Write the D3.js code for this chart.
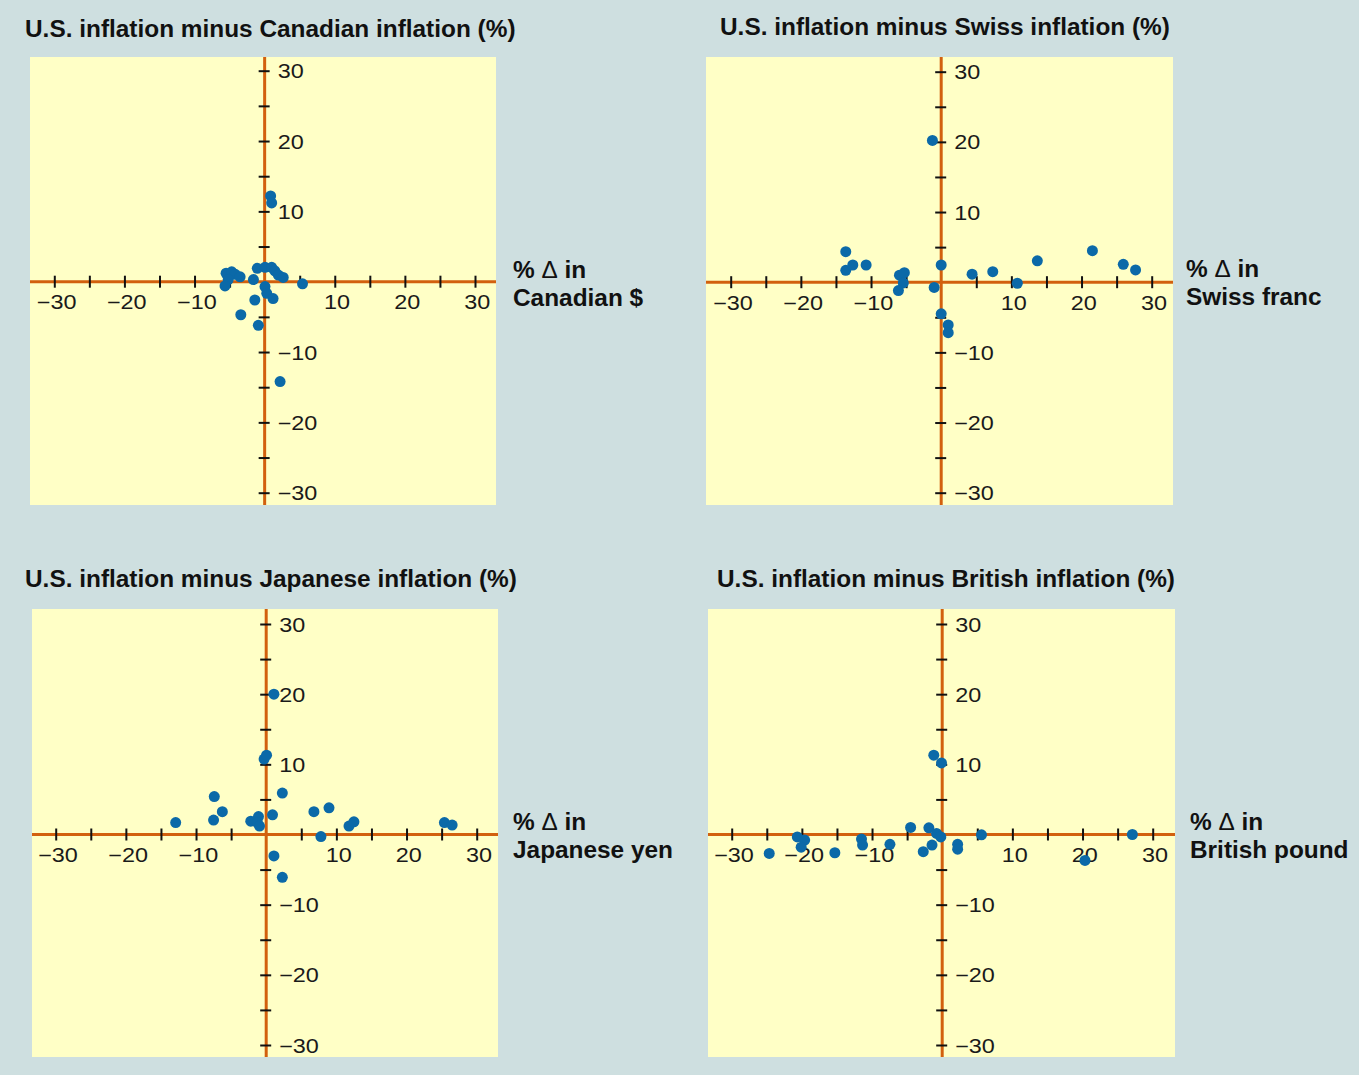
<!DOCTYPE html>
<html>
<head>
<meta charset="utf-8">
<script src="https://cdn.jsdelivr.net/npm/d3@7"></script>
<style>
  body { margin: 0; background: #fff; }
  text { font-family: "Liberation Sans", Arial, Helvetica, sans-serif; }
</style>
</head>
<body>
<svg width="1362" height="1078"></svg>
<script>
// [x = % change in exchange rate, y = inflation difference]
const canadianPoints = [
  [0.85, 12.2], [1.0, 11.2], [-5.5, 1.2], [-4.7, 1.4], [-4.2, 1.05], [-3.5, 0.7],
  [-5.2, 0.3], [-5.65, -0.6], [-1.6, 0.3], [-1.05, 1.9], [0.05, 2.05], [1.0, 2.05],
  [1.45, 1.55], [1.95, 0.95], [2.65, 0.6], [5.4, -0.3], [0.05, -0.7], [0.3, -1.65],
  [1.2, -2.4], [-1.4, -2.6], [-3.4, -4.7], [-0.9, -6.2], [2.2, -14.2]
];
const swissPoints = [
  [-1.25, 20.2], [-13.6, 4.35], [-13.6, 1.7], [-12.6, 2.45], [-10.7, 2.45], [-5.95, 1.0],
  [-5.25, 1.35], [-5.4, -0.1], [-6.1, -1.2], [-1.0, -0.75], [0.0, 2.45], [4.4, 1.15],
  [7.35, 1.5], [10.85, -0.15], [13.7, 3.05], [21.55, 4.5], [25.95, 2.55], [27.7, 1.75],
  [0.0, -4.5], [1.0, -6.1], [1.0, -7.2]
];
const japanesePoints = [
  [1.1, 20.0], [-0.3, 10.75], [0.05, 11.3], [2.3, 5.9], [-7.4, 5.4], [-6.25, 3.25],
  [-7.5, 2.05], [-12.9, 1.7], [-2.2, 1.9], [-1.1, 2.55], [-1.25, 1.7], [-0.95, 1.2],
  [0.9, 2.8], [6.8, 3.25], [8.95, 3.8], [7.8, -0.3], [11.8, 1.2], [12.5, 1.8],
  [25.4, 1.7], [26.5, 1.35], [1.1, -3.05], [2.3, -6.1]
];
const britishPoints = [
  [-1.2, 11.3], [-0.1, 10.2], [-4.5, 1.0], [-1.9, 0.95], [-0.8, 0.15], [-0.2, -0.35],
  [-1.45, -1.5], [-2.7, -2.45], [-7.45, -1.4], [-11.5, -0.65], [-11.35, -1.5],
  [-20.65, -0.35], [-19.6, -0.8], [-20.1, -1.8], [-15.3, -2.6], [-24.65, -2.7],
  [2.2, -1.4], [2.2, -2.1], [5.6, -0.05], [20.35, -3.7], [27.1, 0.0]
];

const titles = [
  'U.S. inflation minus Canadian inflation (%)',
  'U.S. inflation minus Swiss inflation (%)',
  'U.S. inflation minus Japanese inflation (%)',
  'U.S. inflation minus British inflation (%)'
];
const currencies = ['Canadian $', 'Swiss franc', 'Japanese yen', 'British pound'];
const tickValues = [-30, -25, -20, -15, -10, -5, 5, 10, 15, 20, 25, 30];
const labelValues = [-30, -20, -10, 10, 20, 30];

const svg = d3.select('svg');
const width = +svg.attr('width');
const height = +svg.attr('height');

svg.append('rect')
  .attr('width', width - 3).attr('height', height - 3)
  .attr('fill', '#cedfe0');

// where each panel sits on the page
const layout = [
  { box: [30, 57, 496, 505], xr: [54.3, 475], yr: [492.7, 70.7], title: [25, 36.5], side: [513, 278] },
  { box: [706, 57, 1173, 505], xr: [730.7, 1151.7], yr: [492.7, 71.7], title: [720, 34.5], side: [1186, 277] },
  { box: [32, 609, 498, 1057], xr: [55.7, 476.7], yr: [1045, 624], title: [25, 587], side: [513, 830] },
  { box: [708, 609, 1175, 1057], xr: [731.7, 1152.7], yr: [1045, 624], title: [717, 587], side: [1190, 830] }
];
const allPoints = [canadianPoints, swissPoints, japanesePoints, britishPoints];

const fmt = v => (v < 0 ? '\u2212' : '') + Math.abs(v);
const stretch = 1.2; // tick numbers are drawn wide in the original

const render = (points, title, currency, lay) => {
  const [bx0, by0, bx1, by1] = lay.box;

  const xScale = d3.scaleLinear().domain([-30, 30]).range(lay.xr);
  const yScale = d3.scaleLinear().domain([-30, 30]).range(lay.yr);
  const x0 = xScale(0);
  const y0 = yScale(0);

  const g = svg.append('g');

  g.append('rect')
    .attr('x', bx0).attr('y', by0)
    .attr('width', bx1 - bx0).attr('height', by1 - by0)
    .attr('fill', '#ffffc6');

  // orange axis lines across the whole box
  g.append('line')
    .attr('x1', bx0).attr('x2', bx1).attr('y1', y0).attr('y2', y0)
    .attr('stroke', '#d2600e').attr('stroke-width', 3);
  g.append('line')
    .attr('x1', x0).attr('x2', x0).attr('y1', by0).attr('y2', by1)
    .attr('stroke', '#d2600e').attr('stroke-width', 3);

  // x axis
  const xAxis = g.append('g')
    .attr('transform', `translate(0, ${y0})`)
    .call(d3.axisBottom(xScale).tickValues(tickValues).tickSize(6)
      .tickFormat(d => labelValues.includes(d) ? fmt(d) : ''));
  xAxis.select('.domain').remove();
  xAxis.selectAll('.tick line')
    .attr('y1', -6).attr('y2', 6)
    .attr('stroke', '#111').attr('stroke-width', 2);
  xAxis.selectAll('.tick text')
    .attr('y', 27.5).attr('dy', 0).attr('x', 1.5)
    .attr('transform', `scale(${stretch},1)`)
    .attr('fill', '#1a1a1a')
    .style('font-size', '19.5px')
    .style('font-family', '"Liberation Sans", Arial, sans-serif');

  // y axis
  const yAxis = g.append('g')
    .attr('transform', `translate(${x0}, 0)`)
    .call(d3.axisRight(yScale).tickValues(tickValues).tickSize(5)
      .tickFormat(d => labelValues.includes(d) ? fmt(d) : ''));
  yAxis.select('.domain').remove();
  yAxis.selectAll('.tick line')
    .attr('x1', -6).attr('x2', 5)
    .attr('stroke', '#111').attr('stroke-width', 2);
  yAxis.selectAll('.tick text')
    .attr('x', 13 / stretch).attr('dy', '0.36em')
    .attr('transform', `scale(${stretch},1)`)
    .attr('fill', '#1a1a1a')
    .style('font-size', '19.5px')
    .style('font-family', '"Liberation Sans", Arial, sans-serif');

  g.selectAll('circle').data(points)
    .enter().append('circle')
    .attr('cx', d => xScale(d[0]))
    .attr('cy', d => yScale(d[1]))
    .attr('r', 5.5)
    .attr('fill', '#0b69a8');

  g.append('text')
    .attr('x', lay.title[0]).attr('y', lay.title[1])
    .attr('font-size', 24.4).attr('font-weight', 'bold').attr('fill', '#111')
    .text(title);

  const side = g.append('text')
    .attr('x', lay.side[0]).attr('y', lay.side[1])
    .attr('font-size', 24.4).attr('font-weight', 'bold').attr('fill', '#111');
  const first = side.append('tspan').attr('x', lay.side[0]);
  first.append('tspan').text('% ');
  first.append('tspan').attr('font-weight', 'normal').text('\u0394');
  first.append('tspan').text(' in');
  side.append('tspan').attr('x', lay.side[0]).attr('dy', 28).text(currency);
};

layout.forEach((lay, i) => render(allPoints[i], titles[i], currencies[i], lay));
</script>
</body>
</html>
